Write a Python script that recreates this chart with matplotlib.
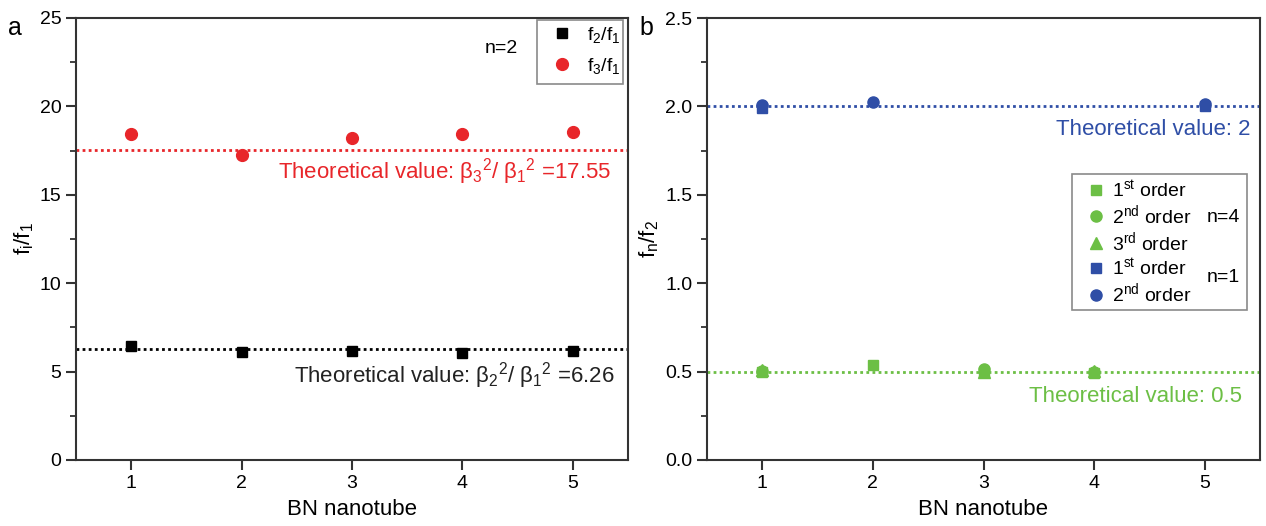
import numpy as np
import matplotlib
matplotlib.use("Agg")
import matplotlib.pyplot as plt
from matplotlib.patches import Rectangle
from matplotlib.ticker import FormatStrFormatter

plt.rcParams['font.family'] = ['Liberation Sans', 'DejaVu Sans']
plt.rcParams['mathtext.fontset'] = 'custom'
plt.rcParams['mathtext.rm'] = 'Liberation Sans'
plt.rcParams['mathtext.it'] = 'Liberation Sans'
plt.rcParams['mathtext.bf'] = 'Liberation Sans:bold'

# ---- data ----
tubes = [1, 2, 3, 4, 5]
f2_f1 = [6.45, 6.10, 6.15, 6.08, 6.15]
f3_f1 = [18.45, 17.23, 18.20, 18.43, 18.58]
theory_f2 = 6.26
theory_f3 = 17.55

g1_x = [1, 2, 3, 4]
g1_y = [0.50, 0.535, 0.50, 0.49]
g2_x = [1, 3, 4]
g2_y = [0.505, 0.515, 0.50]
g3_x = [1, 3, 4]
g3_y = [0.51, 0.50, 0.505]
b1_x = [1, 5]
b1_y = [1.99, 2.00]
b2_x = [1, 2, 5]
b2_y = [2.01, 2.025, 2.015]
theory_n4 = 0.5
theory_n1 = 2.0

RED = '#e8262a'
GREEN = '#6cbf45'
BLUE = '#2f4ea6'
SPINE = '#333333'
DOTS = (0, (1, 1.2))

fig = plt.figure(figsize=(12.66, 5.26), dpi=100)
W, H = 1266, 526
axA = fig.add_axes([76 / W, 66 / H, (628 - 76) / W, 442 / H])
axB = fig.add_axes([707 / W, 66 / H, (1260 - 707) / W, 442 / H])


def style(ax):
    for s in ax.spines.values():
        s.set_linewidth(1.5)
        s.set_color(SPINE)
    ax.tick_params(axis='both', which='major', direction='out', length=7,
                   width=1.5, color=SPINE, labelsize=14, top=False, right=False)
    ax.tick_params(axis='y', which='minor', direction='out', length=4,
                   width=1.3, color=SPINE, right=False)
    ax.set_xlim(0.5, 5.5)
    ax.set_xticks(tubes)
    ax.set_xlabel('BN nanotube', fontsize=16, labelpad=5)


def legend_box(ax, x0, y0, x1, y1):
    ax.add_patch(Rectangle((x0, y0), x1 - x0, y1 - y0, transform=ax.transAxes,
                           fill=False, edgecolor='#8a8a8a', lw=1.2, zorder=5))


# ---- panel a ----
style(axA)
axA.set_ylim(0, 25)
axA.set_yticks(np.arange(0, 26, 5))
axA.set_yticks(np.arange(2.5, 25, 5), minor=True)
axA.axhline(theory_f3, color=RED, ls=DOTS, lw=2)
axA.axhline(theory_f2, color='black', ls=DOTS, lw=2)
axA.plot(tubes, f2_f1, 's', color='black', ms=7, label=r'f$_2$/f$_1$')
axA.plot(tubes, f3_f1, 'o', color=RED, ms=8.5, label=r'f$_3$/f$_1$')
axA.set_ylabel(r'f$_i$/f$_1$', fontsize=16, labelpad=3)
axA.text(5.35, 16.3, r'Theoretical value: $\beta_3$$^2$/ $\beta_1$$^2$ =17.55',
         color=RED, fontsize=16, ha='right', va='center')
axA.text(5.38, 4.8, r'Theoretical value: $\beta_2$$^2$/ $\beta_1$$^2$ =6.26',
         color='#222222', fontsize=16, ha='right', va='center')
axA.text(4.35, 23.3, 'n=2', fontsize=14, ha='center', va='center')
axA.legend(loc='upper left', bbox_to_anchor=(0.862, 0.984), fontsize=14,
           frameon=False, handletextpad=0.8, borderpad=0, labelspacing=0.55,
           handlelength=1.0, borderaxespad=0)
legend_box(axA, 0.835, 0.850, 0.991, 0.995)

# ---- panel b ----
style(axB)
axB.set_ylim(0, 2.5)
axB.set_yticks(np.arange(0, 2.51, 0.5))
axB.yaxis.set_major_formatter(FormatStrFormatter('%.1f'))
axB.set_yticks(np.arange(0.25, 2.5, 0.5), minor=True)
axB.axhline(theory_n1, color=BLUE, ls=DOTS, lw=2)
axB.axhline(theory_n4, color=GREEN, ls=DOTS, lw=2)
axB.plot(g1_x, g1_y, 's', color=GREEN, ms=7, label=r'1$^{st}$ order')
axB.plot(g2_x, g2_y, 'o', color=GREEN, ms=8, label=r'2$^{nd}$ order')
axB.plot(g3_x, g3_y, '^', color=GREEN, ms=8, label=r'3$^{rd}$ order')
axB.plot(b1_x, b1_y, 's', color=BLUE, ms=7, label=r'1$^{st}$ order')
axB.plot(b2_x, b2_y, 'o', color=BLUE, ms=8, label=r'2$^{nd}$ order')
axB.set_ylabel(r'f$_n$/f$_2$', fontsize=16, labelpad=3)
axB.text(5.41, 1.87, 'Theoretical value: 2', color=BLUE, fontsize=16,
         ha='right', va='center')
axB.text(5.34, 0.36, 'Theoretical value: 0.5', color=GREEN, fontsize=16,
         ha='right', va='center')
axB.legend(loc='upper left', bbox_to_anchor=(0.685, 0.636), fontsize=14,
           frameon=False, handletextpad=0.35, borderpad=0, labelspacing=0.15,
           handlelength=1.0, borderaxespad=0)
legend_box(axB, 0.660, 0.339, 0.976, 0.647)
axB.text(5.17, 1.374, 'n=4', fontsize=14, ha='center', va='center')
axB.text(5.17, 1.03, 'n=1', fontsize=14, ha='center', va='center')

fig.text(15 / W, 1 - 28 / H, 'a', fontsize=18, ha='center', va='center')
fig.text(646 / W, 1 - 28 / H, 'b', fontsize=18, ha='center', va='center')

fig.savefig('out.png', dpi=100)
